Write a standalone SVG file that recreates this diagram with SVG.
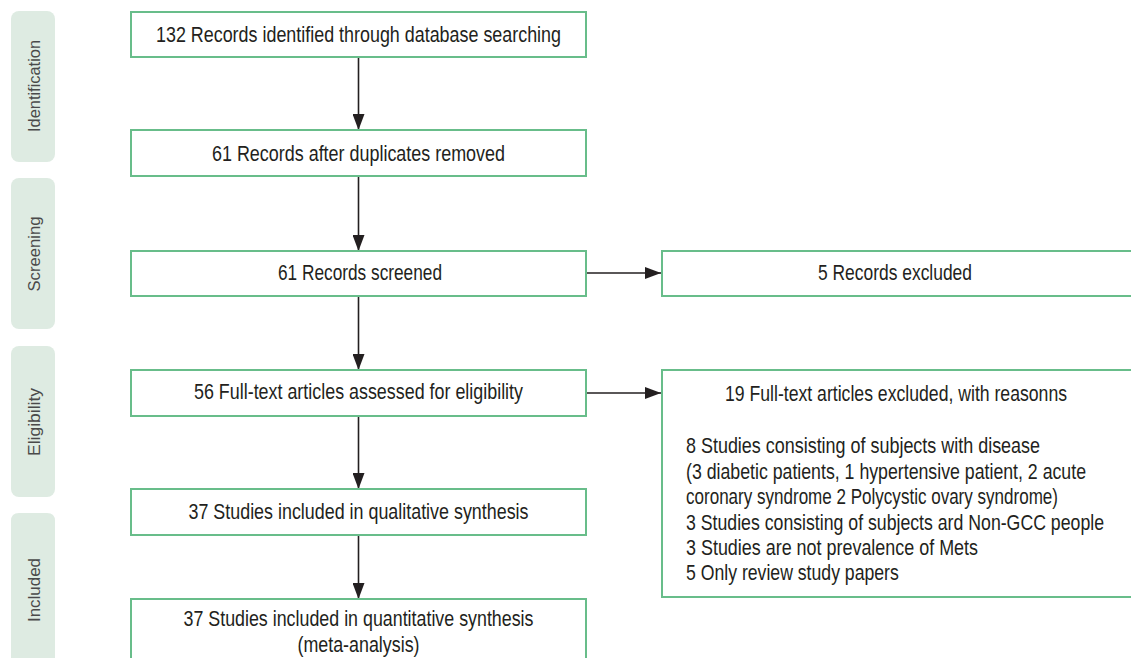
<svg xmlns="http://www.w3.org/2000/svg" width="1131" height="658" viewBox="0 0 1131 658">
<style>
.tab{fill:#deebe2;}
.tl{font-family:"Liberation Sans",Arial,sans-serif;font-size:17px;fill:#4a4a4a;text-anchor:middle;}
.box{fill:#ffffff;stroke:#68bd8a;stroke-width:2;}
.t{font-family:"Liberation Sans",Arial,sans-serif;font-size:22px;fill:#231f20;}
.c{text-anchor:middle;}
.conn{stroke:#231f20;stroke-width:1.6;fill:none;}
</style>
<defs>
<marker id="ah" markerWidth="16" markerHeight="12" refX="16" refY="6" orient="auto" markerUnits="userSpaceOnUse">
<path d="M0,0 L16,6 L0,12 Z" fill="#231f20"/>
</marker>
</defs>
<rect width="1131" height="658" fill="#ffffff"/>
<g id="stages">
<g id="stage-identification"><rect class="tab" x="11" y="11" width="44" height="151" rx="8"/><text class="tl" transform="translate(39.5,86) rotate(-90)" textLength="92" lengthAdjust="spacingAndGlyphs">Identification</text></g>
<g id="stage-screening"><rect class="tab" x="11" y="178" width="44" height="151" rx="8"/><text class="tl" transform="translate(39.5,254) rotate(-90)" textLength="75" lengthAdjust="spacingAndGlyphs">Screening</text></g>
<g id="stage-eligibility"><rect class="tab" x="11" y="346" width="44" height="151" rx="8"/><text class="tl" transform="translate(39.5,422) rotate(-90)" textLength="68" lengthAdjust="spacingAndGlyphs">Eligibility</text></g>
<g id="stage-included"><path class="tab" d="M11,658 L11,521 Q11,513 19,513 L47,513 Q55,513 55,521 L55,658 Z"/><text class="tl" transform="translate(39.5,590) rotate(-90)" textLength="64" lengthAdjust="spacingAndGlyphs">Included</text></g>
</g>
<g id="connectors">
<line class="conn" x1="358.5" y1="57" x2="358.5" y2="130" marker-end="url(#ah)"/>
<line class="conn" x1="358.5" y1="176" x2="358.5" y2="251" marker-end="url(#ah)"/>
<line class="conn" x1="358.5" y1="296" x2="358.5" y2="370" marker-end="url(#ah)"/>
<line class="conn" x1="358.5" y1="416" x2="358.5" y2="489" marker-end="url(#ah)"/>
<line class="conn" x1="358.5" y1="535" x2="358.5" y2="599" marker-end="url(#ah)"/>
<line class="conn" x1="586" y1="273" x2="661" y2="273" marker-end="url(#ah)"/>
<line class="conn" x1="586" y1="393" x2="661" y2="393" marker-end="url(#ah)"/>
</g>
<g id="n1"><rect class="box" x="131" y="12" width="455" height="45"/><text class="t c" x="358.5" y="42" textLength="405" lengthAdjust="spacingAndGlyphs">132 Records identified through database searching</text></g>
<g id="n2"><rect class="box" x="131" y="130" width="455" height="46"/><text class="t c" x="358.5" y="161" textLength="293" lengthAdjust="spacingAndGlyphs">61 Records after duplicates removed</text></g>
<g id="n3"><rect class="box" x="131" y="251" width="455" height="45"/><text class="t c" x="360" y="280" textLength="164" lengthAdjust="spacingAndGlyphs">61 Records screened</text></g>
<g id="n4"><path class="box" d="M1131,251 L662,251 L662,296 L1131,296"/><text class="t c" x="895" y="280" textLength="154" lengthAdjust="spacingAndGlyphs">5 Records excluded</text></g>
<g id="n5"><rect class="box" x="131" y="370" width="455" height="46"/><text class="t c" x="358.5" y="399" textLength="329" lengthAdjust="spacingAndGlyphs">56 Full-text articles assessed for eligibility</text></g>
<g id="n6"><path class="box" d="M1131,370 L662,370 L662,597 L1131,597"/>
<text class="t c" transform="translate(896,401) scale(0.8,1)" textLength="427.5" lengthAdjust="spacingAndGlyphs">19 Full-text articles excluded, with reasonns</text>
<text class="t" transform="translate(686,453) scale(0.8,1)" textLength="442.5" lengthAdjust="spacingAndGlyphs">8 Studies consisting of subjects with disease</text>
<text class="t" transform="translate(686,479) scale(0.8,1)" textLength="500" lengthAdjust="spacingAndGlyphs">(3 diabetic patients, 1 hypertensive patient, 2 acute</text>
<text class="t" transform="translate(686,504) scale(0.8,1)" textLength="465" lengthAdjust="spacingAndGlyphs">coronary syndrome 2 Polycystic ovary syndrome)</text>
<text class="t" transform="translate(686,530) scale(0.8,1)" textLength="522.5" lengthAdjust="spacingAndGlyphs">3 Studies consisting of subjects ard Non-GCC people</text>
<text class="t" transform="translate(686,555) scale(0.8,1)" textLength="365" lengthAdjust="spacingAndGlyphs">3 Studies are not prevalence of Mets</text>
<text class="t" transform="translate(686,580) scale(0.8,1)" textLength="266" lengthAdjust="spacingAndGlyphs">5 Only review study papers</text>
</g>
<g id="n7"><rect class="box" x="131" y="489" width="455" height="46"/><text class="t c" x="358.5" y="519" textLength="340" lengthAdjust="spacingAndGlyphs">37 Studies included in qualitative synthesis</text></g>
<g id="n8"><path class="box" d="M131,658 L131,599 L586,599 L586,658"/><text class="t c" x="358.5" y="626" textLength="350" lengthAdjust="spacingAndGlyphs">37 Studies included in quantitative synthesis</text><text class="t c" x="358.5" y="652" textLength="122" lengthAdjust="spacingAndGlyphs">(meta-analysis)</text></g>
</svg>
